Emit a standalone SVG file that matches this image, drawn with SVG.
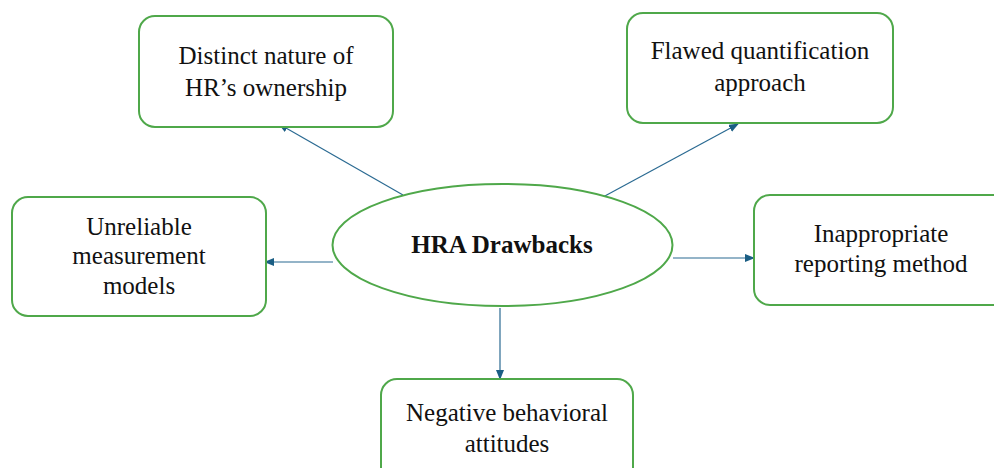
<svg xmlns="http://www.w3.org/2000/svg" width="994" height="468" viewBox="0 0 994 468">
<style>
.box{fill:#fff;stroke:#4fa84a;stroke-width:2}
</style>
<defs>
<marker id="ah" markerWidth="10" markerHeight="8" refX="9" refY="4" orient="auto" markerUnits="userSpaceOnUse">
<path d="M0,0 L10,4 L0,8 Z" fill="#1b5e84"/>
</marker>
</defs>
<rect width="994" height="468" fill="#fff"/>
<g id="connectors" stroke="#2a6a92" stroke-width="1.2" marker-end="url(#ah)">
<line x1="403" y1="195" x2="279" y2="124"/>
<line x1="603" y1="197" x2="738" y2="124"/>
<line x1="333" y1="262" x2="265" y2="262"/>
<line x1="673" y1="258" x2="754" y2="258"/>
<line x1="500" y1="308" x2="500" y2="379"/>
</g>
<g font-family="'Liberation Serif', 'Times New Roman', serif" font-size="25" fill="#111" text-anchor="middle">
<g id="center">
<ellipse cx="502.5" cy="245" rx="170" ry="61" fill="#fff" stroke="#4fa84a" stroke-width="2"/>
<text x="502" y="253" font-weight="bold">HRA Drawbacks</text>
</g>
<g id="ownership">
<rect class="box" x="139" y="16" width="254" height="111" rx="16"/>
<text x="266" y="64">Distinct nature of</text>
<text x="266" y="96">HR’s ownership</text>
</g>
<g id="quantification">
<rect class="box" x="627" y="13" width="266" height="110" rx="16"/>
<text x="760" y="59">Flawed quantification</text>
<text x="760" y="91">approach</text>
</g>
<g id="measurement">
<rect class="box" x="12" y="197" width="254" height="119" rx="16"/>
<text x="139" y="235">Unreliable</text>
<text x="139" y="264">measurement</text>
<text x="139" y="294">models</text>
</g>
<g id="reporting">
<rect class="box" x="754" y="195" width="260" height="110" rx="16"/>
<text x="881" y="242">Inappropriate</text>
<text x="881" y="272">reporting method</text>
</g>
<g id="behavioral">
<rect class="box" x="381" y="379" width="252" height="110" rx="16"/>
<text x="507" y="421">Negative behavioral</text>
<text x="507" y="452">attitudes</text>
</g>
</g>
</svg>
